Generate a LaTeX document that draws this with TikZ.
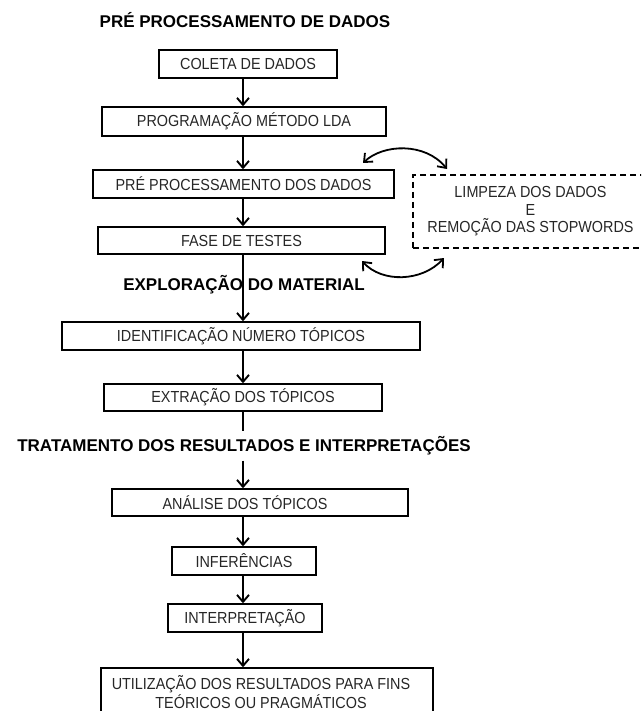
\documentclass[tikz,border=0pt]{standalone}
\usepackage{fontspec}
\usepackage{graphicx}
\setmainfont{Liberation Sans}
\usetikzlibrary{arrows.meta,calc}
% narrow, tall step labels
\newcommand{\nar}[1]{\scalebox{0.9}[1]{#1}}
\begin{document}
\begin{tikzpicture}[x=1pt,y=-1pt,
  box/.style={draw,line width=1.4pt,rectangle,inner sep=0pt,align=center,
    text=black!85,font=\fontsize{16}{16}\selectfont},
  aside/.style={draw,line width=1.8pt,dash pattern=on 6pt off 4pt,rectangle,
    inner sep=0pt,align=center,text=black!85,font=\fontsize{16}{17.5}\selectfont},
  stage/.style={inner sep=0pt,font=\bfseries\fontsize{17}{18}\selectfont},
  flow/.style={line width=1.9pt,-{Straight Barb[length=7pt,width=12pt]}},
  link/.style={line width=1.7pt},
  swap/.style={line width=1.8pt,
    {Straight Barb[length=7pt,width=12pt]}-{Straight Barb[length=7pt,width=12pt]}}]
\useasboundingbox (0,0) rectangle (641,711);
\clip (0,0) rectangle (641,711);

\coordinate (axis) at (243,0);

% stage titles
\node[stage] (t1) at (245,20) {PRÉ PROCESSAMENTO DE DADOS};

% pre-processing steps
\node[box,minimum width=178pt,minimum height=28pt] (coleta) at (248,64) {\nar{COLETA DE DADOS}};
\node[box,minimum width=284pt,minimum height=29pt] (prog) at (244,121.5) {\nar{PROGRAMAÇÃO MÉTODO LDA}};
\node[box,minimum width=301pt,minimum height=28pt] (pre) at (243.5,184) {\nar{PRÉ PROCESSAMENTO DOS DADOS}};
\node[box,minimum width=287pt,minimum height=27pt] (fase) at (241.5,240.5) {\nar{FASE DE TESTES}};
\node[aside,minimum width=235pt,minimum height=73pt] (limp) at (530.5,211.5)
  {\nar{LIMPEZA DOS DADOS}\\\nar{E}\\\nar{REMOÇÃO DAS STOPWORDS}};

% exploration steps
\node[box,minimum width=358pt,minimum height=28pt] (ident) at (241,336) {\nar{IDENTIFICAÇÃO NÚMERO TÓPICOS}};
\node[box,minimum width=278pt,minimum height=27pt] (extr) at (243,397.5) {\nar{EXTRAÇÃO DOS TÓPICOS}};

\node[stage] (trat) at (244,446) {TRATAMENTO DOS RESULTADOS E INTERPRETAÇÕES};

% results and interpretation
\node[box,minimum width=296pt,minimum height=27pt] (anal) at (260,502.5) {\hspace*{-30pt}\nar{ANÁLISE DOS TÓPICOS}};
\node[box,minimum width=144pt,minimum height=28pt] (infer) at (244,561) {\nar{INFERÊNCIAS}};
\node[box,minimum width=154pt,minimum height=28pt] (interp) at (245,618) {\nar{INTERPRETAÇÃO}};
\node[box,minimum width=332pt,minimum height=48pt] (util) at (267,692)
  {\hspace*{-12pt}\nar{UTILIZAÇÃO DOS RESULTADOS PARA FINS}\\\hspace*{-12pt}\nar{TEÓRICOS OU PRAGMÁTICOS}};

% main flow
\draw[flow] (coleta.south -| axis) -- (prog.north -| axis);
\draw[flow] (prog.south -| axis) -- (pre.north -| axis);
\draw[flow] (pre.south -| axis) -- (fase.north -| axis);
\draw[flow] (fase.south -| axis) -- (ident.north -| axis);
\node[stage] (expl) at (244,285) {EXPLORAÇÃO DO MATERIAL};
\draw[flow] (ident.south -| axis) -- (extr.north -| axis);
\draw[link,shorten >=5pt] (extr.south -| axis) -- (trat.north -| axis);
\draw[flow,shorten <=5pt] (trat.south -| axis) -- (anal.north -| axis);
\draw[flow] (anal.south -| axis) -- (infer.north -| axis);
\draw[flow] (infer.south -| axis) -- (interp.north -| axis);
\draw[flow] (interp.south -| axis) -- (util.north -| axis);

% exchange with the cleaning step
\coordinate (u1) at (363,163);
\coordinate (u2) at (447,169);
\coordinate (d1) at (362,261);
\coordinate (d2) at (444,258);
\draw[swap] (u1) .. controls (383,144) and (425,142) .. (u2);
\draw[swap] (d1) .. controls (382,283) and (422,282) .. (d2);
\end{tikzpicture}
\end{document}
